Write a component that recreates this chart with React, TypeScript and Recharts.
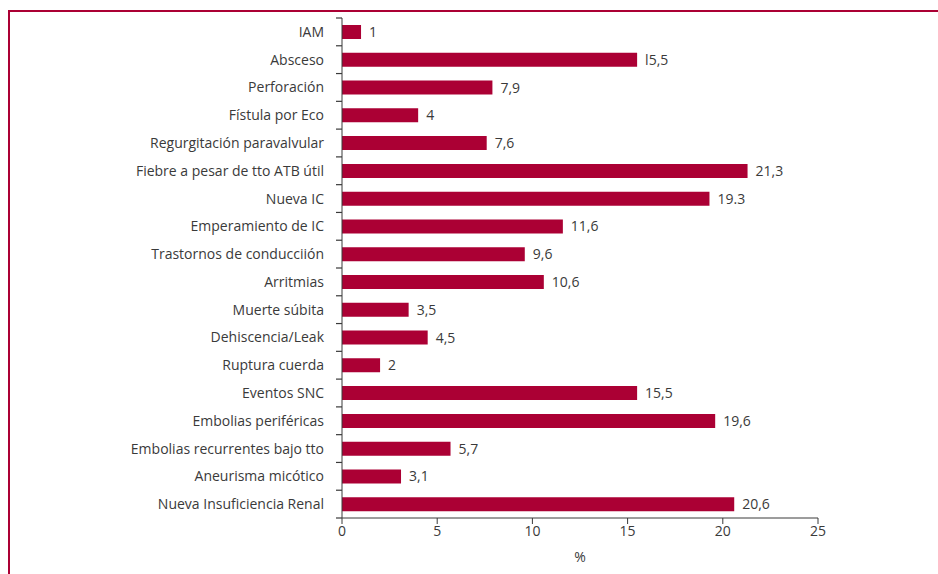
import { Bar, BarChart, LabelList, XAxis, YAxis } from "recharts";

const categories = [
  "IAM",
  "Absceso",
  "Perforación",
  "Fístula por Eco",
  "Regurgitación paravalvular",
  "Fiebre a pesar de tto ATB útil",
  "Nueva IC",
  "Emperamiento de IC",
  "Trastornos de conducciión",
  "Arritmias",
  "Muerte súbita",
  "Dehiscencia/Leak",
  "Ruptura cuerda",
  "Eventos SNC",
  "Embolias periféricas",
  "Embolias recurrentes bajo tto",
  "Aneurisma micótico",
  "Nueva Insuficiencia Renal",
];
const values = [1, 15.5, 7.9, 4, 7.6, 21.3, 19.3, 11.6, 9.6, 10.6, 3.5, 4.5, 2, 15.5, 19.6, 5.7, 3.1, 20.6];
const valueLabels = ["1", "l5,5", "7,9", "4", "7,6", "21,3", "19.3", "11,6", "9,6", "10,6", "3,5", "4,5", "2", "15,5", "19,6", "5,7", "3,1", "20,6"];
const xTicks = [0, 5, 10, 15, 20, 25];

const data = categories.map((name, i) => ({ name, value: values[i], label: valueLabels[i] }));

const RED = "#ab0034";
const INK = "#3a3a3a";
const FONT = "'Open Sans', sans-serif";
const TOP = 18;
const PLOT_H = 500;
const BAND = PLOT_H / categories.length;

function CatTick(props: any) {
  const { x, y, payload, index } = props;
  const isLast = index === categories.length - 1;
  return (
    <g>
      <line x1={x + 12} x2={x + 18} y1={y - BAND / 2} y2={y - BAND / 2} stroke={INK} strokeWidth={1.2} />
      {isLast && (
        <line x1={x + 12} x2={x + 18} y1={y + BAND / 2} y2={y + BAND / 2} stroke={INK} strokeWidth={1.2} />
      )}
      <text x={x} y={y} dy={5} textAnchor="end" fill={INK} fontSize={14} fontFamily={FONT}>
        {payload.value}
      </text>
    </g>
  );
}

export default function App() {
  return (
    <div style={{ position: "fixed", left: 0, top: 0, width: 938, height: 574, background: "#fff" }}>
      <div
        style={{
          position: "absolute",
          left: 8,
          top: 10,
          right: 0,
          bottom: 0,
          borderTop: `2px solid ${RED}`,
          borderLeft: `2px solid ${RED}`,
        }}
      />
      <div style={{ position: "absolute", left: 0, top: 0 }}>
        <BarChart
          width={938}
          height={574}
          data={data}
          layout="vertical"
          margin={{ top: TOP, right: 120, bottom: 0, left: 0 }}
          barCategoryGap={7}
        >
          <XAxis
            type="number"
            domain={[0, 25]}
            ticks={xTicks}
            height={56}
            stroke={INK}
            tickSize={6}
            tick={{ fill: INK, fontSize: 14, fontFamily: FONT }}
            label={{ value: "%", position: "insideTop", offset: 34, fill: INK, fontSize: 14, fontFamily: FONT }}
          />
          <YAxis
            type="category"
            dataKey="name"
            width={342}
            stroke={INK}
            tickLine={false}
            tickMargin={12}
            tick={<CatTick />}
            interval={0}
          />
          <Bar dataKey="value" fill={RED} isAnimationActive={false} barSize={14}>
            <LabelList dataKey="label" position="right" offset={8} fill={INK} fontSize={14} fontFamily={FONT} />
          </Bar>
        </BarChart>
      </div>
    </div>
  );
}
